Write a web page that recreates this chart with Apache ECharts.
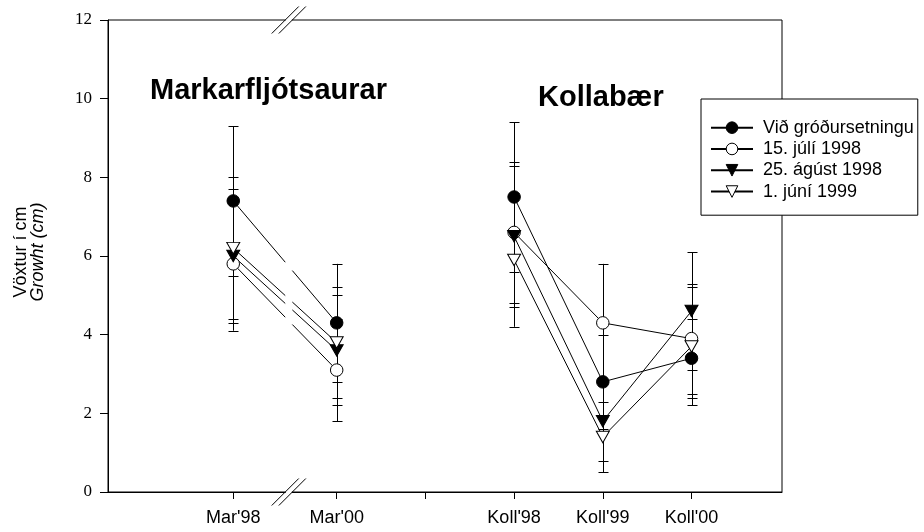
<!DOCTYPE html>
<html><head><meta charset="utf-8">
<script src="https://cdn.jsdelivr.net/npm/echarts@6/dist/echarts.min.js"></script>
<style>html,body{margin:0;padding:0;background:#fff}#c{width:924px;height:532px}</style>
</head><body><div id="c"></div>
<script>
// ---- data ----
const categories = ["Mar'98", "Mar'00", "Koll'98", "Koll'99", "Koll'00"];
const categoryPos = [0.834, 2, 4, 5, 6];      // position of each category on the (broken) x axis
const blankTickPos = [3];                     // unlabelled tick between the two sites
const seriesNames = ["Við gróðursetningu", "15. júlí 1998", "25. ágúst 1998", "1. júní 1999"];
const vidGrod    = [7.4, 4.3, 7.5, 2.8, 3.4];
const vidGrodErr = [1.9, 1.5, 1.9, 1.2, 1.0];
const jul98      = [5.8, 3.1, 6.6, 4.3, 3.9];
const jul98Err   = [1.7, 1.3, 1.8, 1.5, 1.4];
const aug98      = [6.0, 3.6, 6.5, 1.8, 4.6];
const aug98Err   = [1.7, 1.4, 1.8, 1.0, 1.5];
const jun99      = [6.2, 3.8, 5.9, 1.4, 3.7];
const jun99Err   = [1.8, 1.4, 1.7, 0.9, 1.5];
const yTickStep = 2, yMin = 0, yMax = 12;
const siteTitles = ["Markarfljótsaurar", "Kollabær"];
const yAxisTitle = ["Vöxtur í cm", "Growht (cm)"];
const axisBreak = [1.42, 1.50];

// ---- styles ----
const SANS = "'Liberation Sans', Arial, sans-serif";
const SERIF = "'Liberation Serif', 'Times New Roman', serif";
const values = [vidGrod, jul98, aug98, jun99];
const errs = [vidGrodErr, jul98Err, aug98Err, jun99Err];
const markers = [
  {symbol: 'circle', fill: '#000', rotate: 0, size: 12.5},
  {symbol: 'circle', fill: '#fff', rotate: 0, size: 12.5},
  {symbol: 'triangle', fill: '#000', rotate: 180, size: [13, 11.5]},
  {symbol: 'triangle', fill: '#fff', rotate: 180, size: [13, 11.5]}
];
const MAR = [0, 1], KOLL = [2, 3, 4];

const chart = echarts.init(document.getElementById('c'), null, {renderer: 'canvas'});
const series = [];

// error bars
values.forEach((v, s) => {
  series.push({
    type: 'custom', name: 'err' + s, z: 1, silent: true,
    data: v.map((y, i) => [categoryPos[i], y - errs[s][i], y + errs[s][i]]),
    encode: {x: 0, y: [1, 2]},
    renderItem: (params, api) => {
      const lo = api.coord([api.value(0), api.value(1)]);
      const hi = api.coord([api.value(0), api.value(2)]);
      const x = Math.round(lo[0]) + 0.5, hw = 5;
      const st = {stroke: '#000', lineWidth: 1};
      return {type: 'group', children: [
        {type: 'line', shape: {x1: x, y1: lo[1], x2: x, y2: hi[1]}, style: st},
        {type: 'line', shape: {x1: x - hw, y1: Math.round(lo[1]) + 0.5, x2: x + hw, y2: Math.round(lo[1]) + 0.5}, style: st},
        {type: 'line', shape: {x1: x - hw, y1: Math.round(hi[1]) + 0.5, x2: x + hw, y2: Math.round(hi[1]) + 0.5}, style: st}
      ]};
    }
  });
});

// Markarfljótsaurar connecting lines, interrupted at the axis break
values.forEach((v, s) => {
  series.push({
    type: 'custom', name: 'marline' + s, z: 2, silent: true,
    data: [[categoryPos[MAR[0]], v[MAR[0]], categoryPos[MAR[1]], v[MAR[1]]]],
    encode: {x: [0, 2], y: [1, 3]},
    renderItem: (params, api) => {
      const p0 = api.coord([api.value(0), api.value(1)]);
      const p1 = api.coord([api.value(2), api.value(3)]);
      const b0 = api.coord([axisBreak[0], 0])[0];
      const b1 = api.coord([axisBreak[1], 0])[0];
      const yAt = (x) => p0[1] + (x - p0[0]) / (p1[0] - p0[0]) * (p1[1] - p0[1]);
      const st = {stroke: '#000', lineWidth: 1};
      return {type: 'group', children: [
        {type: 'line', shape: {x1: p0[0], y1: p0[1], x2: b0, y2: yAt(b0)}, style: st},
        {type: 'line', shape: {x1: b1, y1: yAt(b1), x2: p1[0], y2: p1[1]}, style: st}
      ]};
    }
  });
});

// Kollabær lines with markers (these also feed the legend)
values.forEach((v, s) => {
  const m = markers[s];
  series.push({
    type: 'line', name: seriesNames[s], z: 3,
    data: KOLL.map(i => [categoryPos[i], v[i]]),
    symbol: m.symbol, symbolSize: m.size, symbolRotate: m.rotate, showSymbol: true,
    lineStyle: {color: '#000', width: 1},
    itemStyle: {color: m.fill, borderColor: '#000', borderWidth: 1},
    emphasis: {disabled: true}, animation: false
  });
});
// Markarfljótsaurar markers
values.forEach((v, s) => {
  const m = markers[s];
  series.push({
    type: 'scatter', name: seriesNames[s], z: 3,
    data: MAR.map(i => [categoryPos[i], v[i]]),
    symbol: m.symbol, symbolSize: m.size, symbolRotate: m.rotate,
    itemStyle: {color: m.fill, borderColor: '#000', borderWidth: 1, opacity: 1},
    emphasis: {disabled: true}, animation: false
  });
});

const labelVals = categoryPos.slice();
const tickVals = categoryPos.concat(blankTickPos).sort((a, b) => a - b);

const option = {
  animation: false,
  backgroundColor: '#fff',
  grid: {left: 108, right: 142, top: 20, bottom: 40, show: true, borderColor: '#000', borderWidth: 1,
         backgroundColor: 'transparent', containLabel: false, outerBoundsMode: 'none'},
  xAxis: {
    type: 'value', min: -0.578, max: 7.02,
    axisLine: {show: true, onZero: false, lineStyle: {color: '#000', width: 1}},
    axisTick: {show: true, inside: false, length: 7, lineStyle: {color: '#000', width: 1}, customValues: tickVals},
    axisLabel: {show: true, customValues: labelVals, margin: 17, color: '#000', fontFamily: SANS, fontSize: 18,
      formatter: (val) => {
        const i = categoryPos.findIndex(p => Math.abs(p - val) < 1e-6);
        return i >= 0 ? categories[i] : '';
      }},
    splitLine: {show: false}, minorTick: {show: false}
  },
  yAxis: {
    type: 'value', min: yMin, max: yMax, interval: yTickStep,
    axisLine: {show: true, onZero: false, lineStyle: {color: '#000', width: 1}},
    axisTick: {show: true, inside: false, length: 8, lineStyle: {color: '#000', width: 1}},
    axisLabel: {show: true, margin: 16, color: '#000', fontFamily: SERIF, fontSize: 17},
    splitLine: {show: false}
  },
  legend: {
    data: seriesNames, orient: 'vertical', left: 701, top: 99,
    itemWidth: 42, itemHeight: 14.5, itemGap: 0,
    padding: [18, 4, 13, 9],
    backgroundColor: '#fff', borderColor: '#000', borderWidth: 1, borderRadius: 0,
    selectedMode: false, z: 10,
    itemStyle: {borderWidth: 1, borderColor: '#000'},
    textStyle: {fontFamily: SANS, fontSize: 18, color: '#000', lineHeight: 21.3, padding: [0, 0, 0, 5]}
  },
  series: series
};
chart.setOption(option);

// annotations placed from the axes' own scales
const px = (x) => chart.convertToPixel({xAxisIndex: 0}, x);
const py = (y) => chart.convertToPixel({yAxisIndex: 0}, y);
const yTop = py(yMax), yBot = py(yMin);
const b0 = px(axisBreak[0]), b1 = px(axisBreak[1]);
const d = 13.5;
const graphics = [];
[yTop, yBot].forEach(yl => {
  graphics.push({type: 'rect', z: 20, shape: {x: b0 + 0.5, y: yl - 2, width: b1 - b0 - 1, height: 4}, style: {fill: '#fff'}});
  [b0, b1].forEach(xb => {
    graphics.push({type: 'line', z: 21, shape: {x1: xb - d, y1: yl + d, x2: xb + d, y2: yl - d}, style: {stroke: '#000', lineWidth: 1}});
  });
});
graphics.push({type: 'text', z: 20, left: 150, top: 76, style: {text: siteTitles[0], font: 'bold 29px ' + SANS, fill: '#000'}});
graphics.push({type: 'text', z: 20, left: 538, top: 83, style: {text: siteTitles[1], font: 'bold 29px ' + SANS, fill: '#000'}});
graphics.push({type: 'text', z: 20, x: 21, y: 252, rotation: Math.PI / 2,
  style: {text: yAxisTitle[0], font: '18px ' + SANS, fill: '#000', align: 'center', verticalAlign: 'middle'}});
graphics.push({type: 'text', z: 20, x: 38, y: 252, rotation: Math.PI / 2,
  style: {text: yAxisTitle[1], font: 'italic 18px ' + SANS, fill: '#000', align: 'center', verticalAlign: 'middle'}});
chart.setOption({graphic: graphics});
</script>
</body></html>
